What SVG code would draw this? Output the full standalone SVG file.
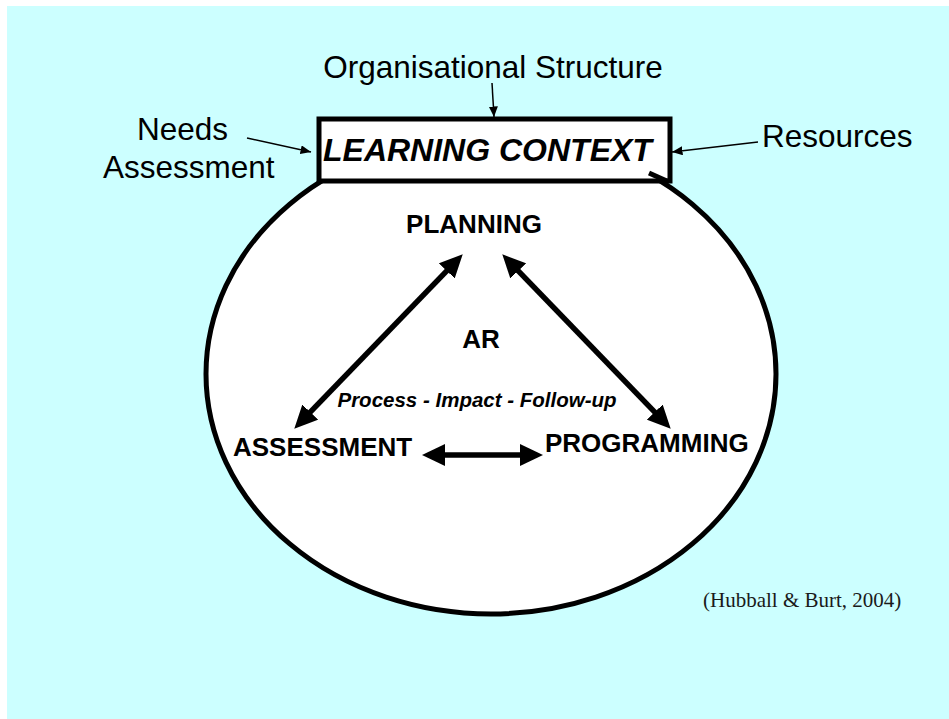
<svg xmlns="http://www.w3.org/2000/svg" width="949" height="719" viewBox="0 0 949 719">
  <defs>
    <style>
      .sans { font-family: "Liberation Sans", Arial, sans-serif; fill: #000; }
      .label { font-size: 31.5px; }
      .stage { font-size: 26px; font-weight: bold; }
      .thin { stroke: #000; stroke-width: 1.5; fill: none; }
      .thick { stroke: #000; stroke-width: 5.5; fill: none; }
    </style>
    <!-- small pointer used by the context inputs -->
    <marker id="tip-small" markerUnits="userSpaceOnUse" markerWidth="11" markerHeight="9" refX="10.5" refY="4.5" orient="auto">
      <path d="M0,0 L10.5,4.5 L0,9 z" fill="#000"/>
    </marker>
    <!-- large head for the cycle arrows (tip sits 14px past the line end) -->
    <marker id="tip-big" markerUnits="userSpaceOnUse" markerWidth="23" markerHeight="22" refX="8" refY="11" orient="auto-start-reverse">
      <path d="M0,0 L23,11 L0,22 z" fill="#000"/>
    </marker>
  </defs>

  <!-- page background -->
  <rect x="7" y="6" width="942" height="713" fill="#CCFFFF"/>

  <!-- cycle boundary -->
  <g id="cycle">
    <ellipse cx="491" cy="374" rx="285" ry="240" fill="#FFFFFF" stroke="#000" stroke-width="5"/>
  </g>

  <!-- context box -->
  <g id="learning-context">
    <rect x="319" y="119" width="351" height="62" fill="#FFFFFF" stroke="#000" stroke-width="5"/>
    <line x1="649" y1="173" x2="669" y2="182" stroke="#000" stroke-width="5"/>
    <text class="sans" x="323" y="161" font-size="32" font-weight="bold" font-style="italic">LEARNING CONTEXT</text>
  </g>

  <g id="organisational-structure">
    <text class="sans label" x="493" y="78" text-anchor="middle">Organisational Structure</text>
  </g>

  <g id="needs-assessment">
    <text class="sans label" x="137" y="140">Needs</text>
    <text class="sans label" x="103" y="178">Assessment</text>
  </g>

  <g id="resources">
    <text class="sans label" x="762" y="147">Resources</text>
  </g>

  <g id="planning">
    <text class="sans stage" x="474" y="233" text-anchor="middle">PLANNING</text>
  </g>

  <g id="ar">
    <text class="sans stage" x="481" y="348" text-anchor="middle">AR</text>
    <text class="sans" x="477" y="407" text-anchor="middle" font-size="20.5" font-weight="bold" font-style="italic">Process - Impact - Follow-up</text>
  </g>

  <g id="assessment">
    <text class="sans stage" x="233" y="456">ASSESSMENT</text>
  </g>

  <g id="programming">
    <text class="sans stage" x="545" y="452">PROGRAMMING</text>
  </g>

  <g id="citation">
    <text x="703" y="607" font-family="'Liberation Serif', 'Times New Roman', serif" font-size="21" fill="#1a1a1a">(Hubball &amp; Burt, 2004)</text>
  </g>

  <!-- connectors -->
  <g id="connectors">
    <line class="thin" x1="492" y1="83" x2="494" y2="117" marker-end="url(#tip-small)"/>
    <line class="thin" x1="247" y1="138" x2="311" y2="152" marker-end="url(#tip-small)"/>
    <line class="thin" x1="758" y1="142" x2="672" y2="152" marker-end="url(#tip-small)"/>

    <line class="thick" x1="452.3" y1="265.1" x2="304.7" y2="417.9" marker-start="url(#tip-big)" marker-end="url(#tip-big)"/>
    <line class="thick" x1="512.7" y1="265.1" x2="660.3" y2="417.9" marker-start="url(#tip-big)" marker-end="url(#tip-big)"/>
    <line class="thick" x1="437" y1="455" x2="528" y2="455" stroke-width="7" marker-start="url(#tip-big)" marker-end="url(#tip-big)"/>
  </g>
</svg>
